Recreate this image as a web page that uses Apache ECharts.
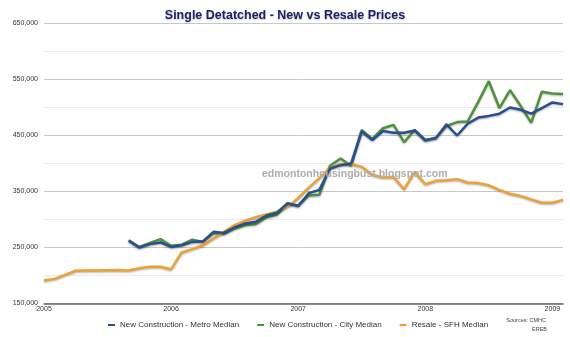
<!DOCTYPE html>
<html>
<head>
<meta charset="utf-8">
<script src="https://cdn.jsdelivr.net/npm/echarts@6/dist/echarts.min.js"></script>
<style>
html,body{margin:0;padding:0;background:#fff;}
#chart{width:570px;height:337px;}
</style>
</head>
<body>
<div id="chart"></div>
<script>
// Monthly categories Jan 2005 .. Feb 2009
var years = ['2005','2006','2007','2008','2009'];
var monthNames = ['Jan','Feb','Mar','Apr','May','Jun','Jul','Aug','Sep','Oct','Nov','Dec'];
var months = [];
for (var y = 0; y < years.length; y++) {
  for (var m = 0; m < 12; m++) {
    if (y === 4 && m > 1) break;
    months.push(monthNames[m] + ' ' + years[y]);
  }
}

var metroMedian = [null,null,null,null,null,null,null,null,
  262000,250000,256000,259000,251000,254000,260000,261000,278000,276000,286000,293000,
  296000,307000,312000,329000,324000,347000,353000,391000,397000,400000,
  457000,442000,458000,455000,455000,459000,442000,445000,470000,450000,
  471000,482000,485000,489000,500000,496000,489000,499000,509000,506000];

var cityMedian = [null,null,null,null,null,null,null,null,
  263000,251000,258000,265000,253000,255000,264000,260000,276000,275000,284000,290000,
  292000,304000,309000,328000,325000,343000,344000,396000,409000,396000,
  460000,444000,463000,469000,438000,460000,441000,446000,467000,474000,
  475000,510000,547000,499000,531000,503000,473000,528000,525000,524000];

var resaleMedian = [191000,194000,201000,208500,209000,209000,209500,210000,209000,213000,
  215500,215500,211000,241000,247000,254000,266000,278000,290000,298000,
  304000,309000,314000,323000,338000,357000,374000,392000,399000,399000,
  394000,380000,375000,376000,354000,385000,363000,369000,370000,372000,
  366000,365000,361000,353000,346000,342000,336000,330000,330000,335000];

var yTickLabels = ['150,000','250,000','350,000','450,000','550,000','650,000'];

var FONT = '"Liberation Sans", Arial, Helvetica, sans-serif';
var chart = echarts.init(document.getElementById('chart'), null, {renderer:'canvas'});

chart.setOption({
  animation: false,
  backgroundColor: '#ffffff',
  title: {
    text: 'Single Detatched - New vs Resale Prices',
    left: 'center',
    top: 4,
    textStyle: {
      fontFamily: FONT, fontSize: 12.5, fontWeight: 'bold', color: '#1c2367',
      textShadowColor: 'rgba(0,0,0,0.25)', textShadowBlur: 2, textShadowOffsetY: 1
    }
  },
  grid: { left: 44, right: 7, top: 23.5, bottom: 33.5, containLabel: false },
  legend: {
    bottom: 3,
    left: 103,
    itemGap: 18,
    itemWidth: 7,
    itemHeight: 2,
    icon: 'rect',
    textStyle: { fontFamily: FONT, fontSize: 8, color: '#333' },
    data: ['New Construction - Metro Median','New Construction - City Median','Resale - SFH Median']
  },
  xAxis: {
    type: 'category',
    data: months,
    boundaryGap: false,
    axisLine: { show: true, lineStyle: { color: '#666', width: 1.5 } },
    axisTick: { show: false },
    splitLine: { show: false },
    axisLabel: {
      interval: function (idx) { return idx % 12 === 0; },
      formatter: function (v, idx) { return years[Math.floor(idx / 12)]; },
      fontFamily: FONT, fontSize: 7, color: '#333', margin: 2
    }
  },
  yAxis: {
    type: 'value',
    min: 150000,
    max: 650000,
    interval: 50000,
    axisLine: { show: false },
    axisTick: { show: false },
    axisLabel: {
      fontFamily: FONT, fontSize: 7, color: '#333', margin: 6,
      formatter: function (v) {
        var s = echarts.format.addCommas(v);
        return yTickLabels.indexOf(s) >= 0 ? s : '';
      }
    },
    splitLine: { show: true, lineStyle: { color: ['#c8c8c8', '#ececec'], width: 1 } }
  },
  series: [
    {
      name: 'New Construction - Metro Median', type: 'line', data: metroMedian,
      showSymbol: false, symbol: 'none', z: 4, connectNulls: false,
      itemStyle: { color: '#2a4f8f' },
      lineStyle: { color: '#2a4f8f', width: 2.5, shadowColor: 'rgba(0,0,0,0.3)', shadowBlur: 2, shadowOffsetY: 1 }
    },
    {
      name: 'New Construction - City Median', type: 'line', data: cityMedian,
      showSymbol: false, symbol: 'none', z: 2,
      itemStyle: { color: '#4f923c' },
      lineStyle: { color: '#4f923c', width: 2.5, shadowColor: 'rgba(0,0,0,0.3)', shadowBlur: 2, shadowOffsetY: 1 }
    },
    {
      name: 'Resale - SFH Median', type: 'line', data: resaleMedian,
      showSymbol: false, symbol: 'none', z: 3,
      itemStyle: { color: '#eba137' },
      lineStyle: { color: '#eba137', width: 2.5, shadowColor: 'rgba(0,0,0,0.3)', shadowBlur: 2, shadowOffsetY: 1 }
    }
  ],
  graphic: [
    {
      type: 'text', left: 262, top: 169, z: 10,
      style: { text: 'edmontonhousingbust.blogspot.com', fontFamily: FONT, fontSize: 10.5, fontWeight: 'bold', fill: '#adadad' }
    },
    {
      type: 'text', right: 24, top: 317, z: 10,
      style: { text: 'Sources: CMHC', fontFamily: FONT, fontSize: 5.5, fill: '#444', align: 'right' }
    },
    {
      type: 'text', right: 23, top: 326, z: 10,
      style: { text: 'EREB', fontFamily: FONT, fontSize: 5.5, fill: '#444', align: 'right' }
    }
  ]
});
</script>
</body>
</html>
